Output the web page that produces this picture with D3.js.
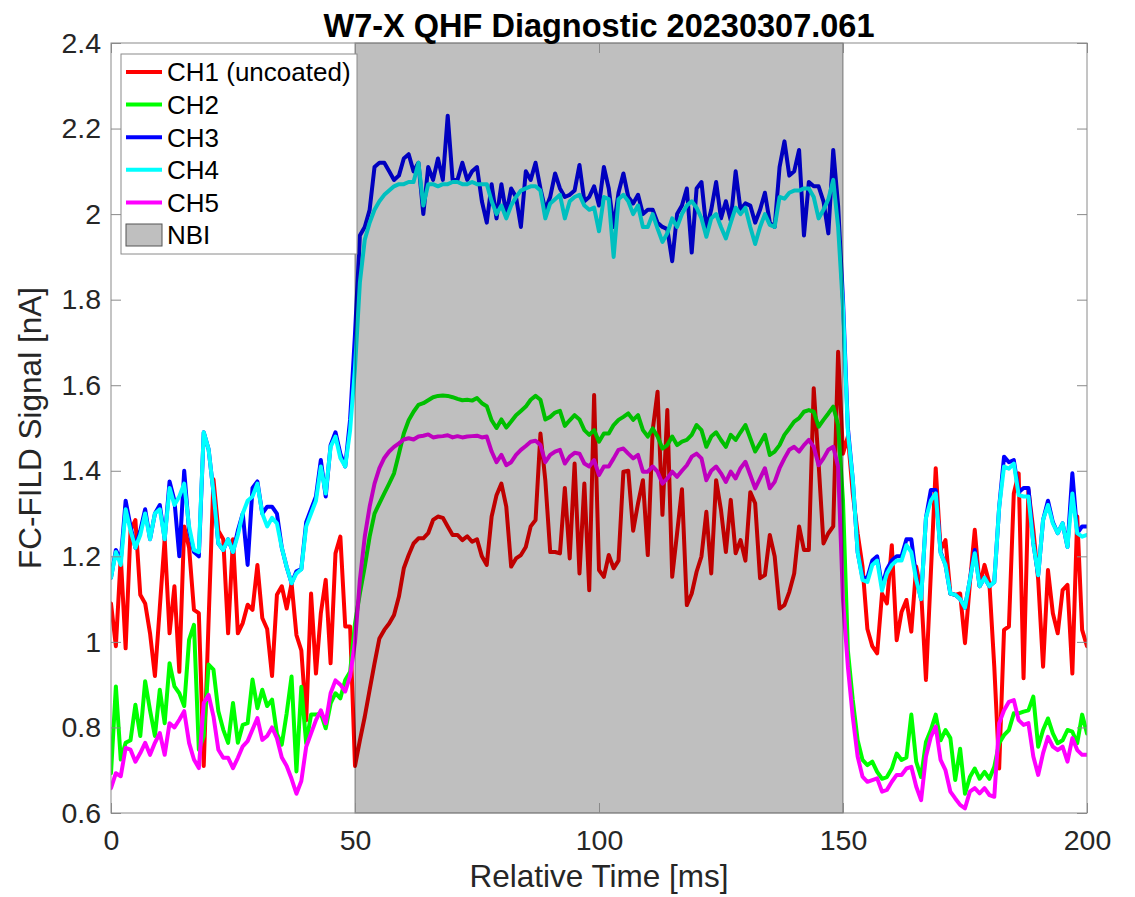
<!DOCTYPE html>
<html>
<head>
<meta charset="utf-8">
<script src="https://cdn.jsdelivr.net/npm/d3@7"></script>
<style>
  body { margin: 0; background: #fff; }
  svg { display: block; font-family: "Liberation Sans", Arial, Helvetica, sans-serif; }
</style>
</head>
<body>
<div id="chart"></div>
<script>
// sampling times (1 ms steps, 0..200 ms)
const timeMs = d3.range(0, 201);

// CH1 (uncoated)
const ch1 = [
  1.09, 0.99, 1.20, 0.985, 1.26, 1.285, 1.11, 1.09, 1.02, 0.92,
  1.08, 1.24, 1.02, 1.13, 0.93, 1.27, 1.22, 1.075, 1.067, 0.71,
  1.05, 1.38, 1.26, 1.24, 1.02, 1.24, 1.02, 1.044, 1.087, 1.075,
  1.18, 1.056, 1.03, 0.92, 1.11, 1.13, 1.078, 1.137, 1.016, 0.98,
  0.817, 1.113, 0.926, 1.067, 1.145, 0.95, 1.207, 1.246, 1.036, 1.036,
  0.71, 0.77, 0.825, 0.888, 0.95, 1.008, 1.028, 1.043, 1.063, 1.106,
  1.172, 1.203, 1.23, 1.242, 1.242, 1.254, 1.285, 1.293, 1.29, 1.27,
  1.25, 1.25, 1.238, 1.247, 1.234, 1.24, 1.20, 1.18, 1.293, 1.343,
  1.37, 1.316, 1.176, 1.195, 1.203, 1.222, 1.27, 1.285, 1.487, 1.378,
  1.21, 1.21, 1.207, 1.36, 1.195, 1.417, 1.16, 1.37, 1.121, 1.577,
  1.168, 1.152, 1.203, 1.172, 1.19, 1.398, 1.40, 1.26, 1.324, 1.378,
  1.203, 1.495, 1.585, 1.297, 1.542, 1.152, 1.254, 1.357, 1.086, 1.113,
  1.164, 1.20, 1.304, 1.16, 1.378, 1.308, 1.21, 1.332, 1.207, 1.238,
  1.19, 1.35, 1.324, 1.149, 1.156, 1.25, 1.20, 1.078, 1.086, 1.117,
  1.16, 1.27, 1.215, 1.215, 1.593, 1.417, 1.23, 1.254, 1.27, 1.678,
  1.44, 1.48, 1.347, 1.254, 1.176, 1.03, 0.99, 0.973, 1.113, 1.09,
  1.226, 1.004, 1.07, 1.098, 1.024, 1.176, 1.12, 0.911, 1.16, 1.406,
  1.215, 1.238, 1.113, 1.11, 1.113, 0.997, 1.137, 1.262, 1.13, 1.18,
  1.137, 0.942, 0.704, 1.028, 1.036, 1.347, 1.394, 0.915, 1.355, 1.262,
  1.145, 0.942, 1.168, 1.067, 1.02, 1.121, 1.133, 0.926, 1.293, 1.028, 0.99
];

// CH2
const ch2 = [
  0.693, 0.896, 0.725, 0.764, 0.77, 0.853, 0.78, 0.908, 0.84, 0.78,
  0.888, 0.81, 0.95, 0.896, 0.88, 0.85, 1.005, 1.04, 0.748, 0.78,
  0.947, 0.935, 0.838, 0.795, 0.764, 0.857, 0.764, 0.806, 0.81, 0.912,
  0.845, 0.888, 0.85, 0.865, 0.785, 0.76, 0.833, 0.919, 0.697, 0.895,
  0.763, 0.83, 0.83, 0.833, 0.798, 0.856, 0.88, 0.868, 0.911, 0.93,
  1.043, 1.113, 1.176, 1.246, 1.30, 1.324, 1.347, 1.37, 1.394, 1.44,
  1.487, 1.518, 1.538, 1.554, 1.558, 1.565, 1.572, 1.575, 1.576, 1.575,
  1.572, 1.568, 1.565, 1.566, 1.564, 1.57, 1.558, 1.551, 1.518, 1.50,
  1.52, 1.501, 1.515, 1.53, 1.54, 1.55, 1.566, 1.575, 1.566, 1.52,
  1.526, 1.536, 1.54, 1.505, 1.518, 1.53, 1.52, 1.495, 1.484, 1.495,
  1.468, 1.487, 1.487, 1.507, 1.519, 1.526, 1.534, 1.519, 1.53, 1.495,
  1.48, 1.499, 1.48, 1.452, 1.46, 1.48, 1.46, 1.468, 1.472, 1.484,
  1.507, 1.495, 1.456, 1.48, 1.49, 1.472, 1.456, 1.484, 1.472, 1.49,
  1.507, 1.476, 1.445, 1.464, 1.484, 1.437, 1.445, 1.46, 1.484, 1.499,
  1.515, 1.523, 1.538, 1.542, 1.538, 1.503, 1.519, 1.534, 1.55, 1.507,
  1.33, 0.98, 0.864, 0.77, 0.724, 0.712, 0.72, 0.696, 0.68, 0.684,
  0.704, 0.739, 0.724, 0.73, 0.83, 0.72, 0.684, 0.766, 0.794, 0.83,
  0.77, 0.794, 0.775, 0.677, 0.75, 0.645, 0.684, 0.704, 0.68, 0.696,
  0.68, 0.708, 0.763, 0.782, 0.794, 0.833, 0.833, 0.837, 0.84, 0.872,
  0.755, 0.794, 0.821, 0.786, 0.763, 0.77, 0.794, 0.79, 0.763, 0.83, 0.786
];

// CH3
const ch3 = [
  1.15, 1.215, 1.19, 1.33, 1.27, 1.22, 1.26, 1.31, 1.24, 1.30,
  1.32, 1.24, 1.375, 1.33, 1.20, 1.40, 1.26, 1.21, 1.20, 1.49,
  1.45, 1.35, 1.23, 1.215, 1.24, 1.21, 1.26, 1.30, 1.18, 1.36,
  1.375, 1.30, 1.316, 1.316, 1.30, 1.22, 1.175, 1.137, 1.165, 1.17,
  1.28, 1.31, 1.34, 1.425, 1.34, 1.46, 1.49, 1.44, 1.41, 1.52,
  1.72, 1.95, 1.97, 2.01, 2.11, 2.12, 2.12, 2.10, 2.08, 2.09,
  2.13, 2.14, 2.10, 2.12, 2.00, 2.11, 2.08, 2.13, 2.08, 2.23,
  2.08, 2.08, 2.12, 2.08, 2.10, 2.11, 2.03, 1.98, 2.07, 1.99,
  2.07, 2.00, 2.06, 2.04, 1.97, 2.10, 2.08, 2.12, 2.06, 2.01,
  2.04, 2.095, 2.06, 2.04, 2.045, 2.055, 2.115, 2.03, 2.04, 2.065,
  2.02, 2.11, 2.06, 1.97, 2.05, 2.095, 2.04, 2.025, 2.045, 2.00,
  2.01, 2.01, 1.98, 1.97, 1.965, 1.89, 2.00, 2.02, 2.06, 1.91,
  2.06, 2.075, 1.966, 2.01, 2.075, 1.99, 2.03, 1.985, 2.10, 2.01,
  2.025, 2.02, 1.98, 2.01, 2.05, 1.98, 1.97, 2.11, 2.17, 2.09,
  2.10, 2.15, 1.95, 2.075, 2.065, 2.065, 2.03, 1.955, 2.15, 2.02,
  1.80, 1.50, 1.38, 1.21, 1.15, 1.15, 1.19, 1.20, 1.13, 1.17,
  1.19, 1.20, 1.20, 1.24, 1.24, 1.15, 1.10, 1.29, 1.355, 1.355,
  1.21, 1.18, 1.113, 1.11, 1.10, 1.08, 1.145, 1.215, 1.13, 1.15,
  1.13, 1.14, 1.315, 1.433, 1.42, 1.425, 1.35, 1.36, 1.36, 1.23,
  1.156, 1.285, 1.33, 1.28, 1.254, 1.277, 1.222, 1.394, 1.254, 1.27, 1.27
];

// CH4
const ch4 = [
  1.15, 1.21, 1.18, 1.31, 1.26, 1.22, 1.25, 1.30, 1.24, 1.30,
  1.31, 1.24, 1.36, 1.32, 1.34, 1.37, 1.27, 1.215, 1.21, 1.49,
  1.45, 1.35, 1.23, 1.215, 1.24, 1.21, 1.25, 1.30, 1.33, 1.34,
  1.37, 1.30, 1.27, 1.29, 1.277, 1.22, 1.175, 1.137, 1.16, 1.17,
  1.27, 1.30, 1.33, 1.41, 1.347, 1.456, 1.48, 1.43, 1.41, 1.495,
  1.64, 1.84, 1.94, 1.98, 2.01, 2.03, 2.045, 2.055, 2.065, 2.07,
  2.07, 2.075, 2.075, 2.12, 2.02, 2.07, 2.07, 2.065, 2.07, 2.07,
  2.075, 2.075, 2.07, 2.07, 2.075, 2.07, 2.07, 2.07, 2.03, 2.00,
  2.02, 1.99, 2.02, 2.04, 2.055, 2.06, 2.065, 2.065, 2.055, 1.99,
  2.025, 2.035, 2.045, 1.99, 2.03, 2.04, 2.045, 2.02, 2.01, 2.015,
  1.96, 2.04, 2.035, 1.90, 2.035, 2.045, 2.03, 2.00, 2.02, 1.97,
  1.97, 2.00, 1.966, 1.935, 1.955, 1.99, 1.97, 2.00, 2.02, 2.03,
  2.015, 1.99, 1.947, 1.99, 2.00, 1.97, 1.943, 1.98, 2.015, 2.00,
  2.015, 1.97, 1.93, 1.97, 2.00, 1.975, 1.97, 2.04, 2.036, 2.05,
  2.055, 2.055, 2.06, 2.06, 2.04, 1.99, 2.01, 2.035, 2.08, 1.97,
  1.78, 1.49, 1.38, 1.21, 1.145, 1.14, 1.18, 1.19, 1.12, 1.16,
  1.18, 1.19, 1.19, 1.226, 1.21, 1.145, 1.10, 1.29, 1.33, 1.347,
  1.207, 1.18, 1.113, 1.11, 1.10, 1.08, 1.145, 1.207, 1.13, 1.15,
  1.13, 1.14, 1.315, 1.41, 1.405, 1.417, 1.343, 1.34, 1.34, 1.23,
  1.156, 1.285, 1.32, 1.277, 1.254, 1.277, 1.222, 1.347, 1.254, 1.246, 1.25
];

// CH5
const ch5 = [
  0.658, 0.693, 0.686, 0.752, 0.748, 0.72, 0.74, 0.764, 0.736, 0.764,
  0.787, 0.736, 0.81, 0.80, 0.818, 0.838, 0.764, 0.725, 0.705, 0.857,
  0.876, 0.826, 0.748, 0.729, 0.729, 0.705, 0.729, 0.756, 0.768, 0.795,
  0.822, 0.771, 0.78, 0.80, 0.775, 0.73, 0.71, 0.68, 0.645, 0.675,
  0.755, 0.786, 0.817, 0.84, 0.81, 0.88, 0.91, 0.90, 0.884, 0.92,
  1.00, 1.145, 1.246, 1.316, 1.37, 1.406, 1.43, 1.445, 1.456, 1.464,
  1.473, 1.476, 1.473, 1.48, 1.482, 1.485, 1.478, 1.48, 1.481, 1.483,
  1.478, 1.481, 1.478, 1.48, 1.481, 1.482, 1.478, 1.48, 1.445, 1.42,
  1.437, 1.413, 1.42, 1.437, 1.449, 1.458, 1.468, 1.47, 1.46, 1.42,
  1.437, 1.445, 1.449, 1.417, 1.433, 1.442, 1.44, 1.417, 1.41, 1.425,
  1.39, 1.41, 1.41, 1.429, 1.449, 1.452, 1.44, 1.429, 1.437, 1.398,
  1.398, 1.41, 1.398, 1.37, 1.382, 1.398, 1.386, 1.40, 1.413, 1.433,
  1.44, 1.429, 1.378, 1.40, 1.41, 1.394, 1.374, 1.398, 1.382, 1.406,
  1.421, 1.39, 1.359, 1.382, 1.406, 1.359, 1.374, 1.406, 1.429, 1.449,
  1.456, 1.445, 1.46, 1.472, 1.456, 1.413, 1.429, 1.449, 1.456, 1.41,
  1.098, 0.942, 0.825, 0.732, 0.685, 0.673, 0.677, 0.681, 0.65, 0.654,
  0.673, 0.689, 0.689, 0.704, 0.708, 0.662, 0.63, 0.732, 0.778, 0.802,
  0.724, 0.70, 0.65, 0.634, 0.619, 0.611, 0.65, 0.658, 0.646, 0.658,
  0.642, 0.638, 0.81, 0.84, 0.86, 0.864, 0.817, 0.806, 0.81, 0.732,
  0.689, 0.74, 0.778, 0.755, 0.747, 0.755, 0.72, 0.775, 0.747, 0.736, 0.736
];

const seriesNames = ["CH1 (uncoated)", "CH2", "CH3", "CH4", "CH5"];
const seriesColors = ["#ff0000", "#00ff00", "#0000ff", "#00ffff", "#ff00ff"];
const nbiWindow = [50, 150];
const nbiLabel = "NBI";

const xTicks = [0, 50, 100, 150, 200];
const xTickLabels = ["0", "50", "100", "150", "200"];
const yTicks = [0.6, 0.8, 1, 1.2, 1.4, 1.6, 1.8, 2, 2.2, 2.4];
const yTickLabels = ["0.6", "0.8", "1", "1.2", "1.4", "1.6", "1.8", "2", "2.2", "2.4"];

const titleText = "W7-X QHF Diagnostic 20230307.061";
const xLabel = "Relative Time [ms]";
const yLabel = "FC-FILD Signal [nA]";

// layout
const width = 1135;
const height = 897;
const plot = {left: 111, right: 1087, top: 43, bottom: 813};
const axisColor = "#8a8a8a";
const textColor = "#262626";

const svg = d3.select("#chart")
  .append("svg")
  .attr("width", width)
  .attr("height", height);

const x = d3.scaleLinear().domain([0, 200]).range([plot.left, plot.right]);
const y = d3.scaleLinear().domain([0.6, 2.4]).range([plot.bottom, plot.top]);

svg.append("clipPath").attr("id", "plotclip")
  .append("rect")
  .attr("x", plot.left).attr("y", plot.top)
  .attr("width", plot.right - plot.left)
  .attr("height", plot.bottom - plot.top);

const series = [ch1, ch2, ch3, ch4, ch5].map((values, i) => ({
  name: seriesNames[i], color: seriesColors[i], values: values
}));

const line = d3.line()
  .x((d, i) => x(timeMs[i]))
  .y(d => y(d));

const lines = svg.append("g").attr("clip-path", "url(#plotclip)");
lines.selectAll("path")
  .data(series)
  .join("path")
  .attr("d", d => line(d.values))
  .attr("fill", "none")
  .attr("stroke", d => d.color)
  .attr("stroke-width", 4)
  .attr("stroke-linejoin", "round")
  .attr("stroke-linecap", "round");

// NBI shading, drawn over the traces (darkens them)
svg.append("rect")
  .attr("x", x(nbiWindow[0]))
  .attr("y", y(2.4))
  .attr("width", x(nbiWindow[1]) - x(nbiWindow[0]))
  .attr("height", y(0.6) - y(2.4))
  .attr("fill", "#000")
  .attr("fill-opacity", 0.25)
  .attr("stroke", "#000")
  .attr("stroke-opacity", 0.45)
  .attr("stroke-width", 1);

// axes (ticks point inward, box on)
function styleAxis(g, fontSize) {
  g.select(".domain").remove();
  g.attr("font-family", null).attr("font-size", null);
  g.selectAll(".tick line").attr("stroke", axisColor).attr("stroke-width", 1);
  g.selectAll(".tick text").attr("fill", textColor).style("font-size", fontSize + "px");
}

svg.append("g")
  .attr("transform", `translate(0, ${plot.bottom})`)
  .call(d3.axisBottom(x).tickValues(xTicks).tickFormat((d, i) => xTickLabels[i])
    .tickSizeInner(-10).tickSizeOuter(0).tickPadding(17))
  .call(g => styleAxis(g, 28.5));

svg.append("g")
  .attr("transform", `translate(${plot.left}, 0)`)
  .call(d3.axisLeft(y).tickValues(yTicks).tickFormat((d, i) => yTickLabels[i])
    .tickSizeInner(-10).tickSizeOuter(0).tickPadding(10))
  .call(g => styleAxis(g, 28.5));

svg.append("g")
  .attr("transform", `translate(0, ${plot.top})`)
  .call(d3.axisTop(x).tickValues(xTicks).tickFormat(() => "")
    .tickSizeInner(-10).tickSizeOuter(0))
  .call(g => styleAxis(g, 0));

svg.append("g")
  .attr("transform", `translate(${plot.right}, 0)`)
  .call(d3.axisRight(y).tickValues(yTicks).tickFormat(() => "")
    .tickSizeInner(-10).tickSizeOuter(0))
  .call(g => styleAxis(g, 0));

svg.append("rect")
  .attr("x", plot.left).attr("y", plot.top)
  .attr("width", plot.right - plot.left)
  .attr("height", plot.bottom - plot.top)
  .attr("fill", "none")
  .attr("stroke", axisColor)
  .attr("stroke-width", 1);

// labels
svg.append("text")
  .attr("x", (plot.left + plot.right) / 2)
  .attr("y", 37)
  .attr("text-anchor", "middle")
  .style("font-size", "32.5px")
  .style("font-weight", "bold")
  .attr("fill", "#000")
  .text(titleText);

svg.append("text")
  .attr("x", (plot.left + plot.right) / 2)
  .attr("y", 887)
  .attr("text-anchor", "middle")
  .style("font-size", "31.5px")
  .attr("fill", textColor)
  .text(xLabel);

svg.append("text")
  .attr("transform", `translate(41, ${(plot.top + plot.bottom) / 2}) rotate(-90)`)
  .attr("text-anchor", "middle")
  .style("font-size", "31.5px")
  .attr("fill", textColor)
  .text(yLabel);

// legend
const legend = svg.append("g").attr("transform", "translate(121, 54)");
legend.append("rect")
  .attr("width", 236).attr("height", 200)
  .attr("fill", "#fff")
  .attr("stroke", axisColor)
  .attr("stroke-width", 1);

const rowY = i => 18 + i * 32.6;

legend.selectAll("line.key")
  .data(series)
  .join("line")
  .attr("class", "key")
  .attr("x1", 5).attr("x2", 41)
  .attr("y1", (d, i) => rowY(i)).attr("y2", (d, i) => rowY(i))
  .attr("stroke", d => d.color)
  .attr("stroke-width", 4);

legend.append("rect")
  .attr("x", 5).attr("y", rowY(5) - 11)
  .attr("width", 36).attr("height", 22)
  .attr("fill", "#bfbfbf")
  .attr("stroke", "#555")
  .attr("stroke-width", 1);

legend.selectAll("text")
  .data(seriesNames.concat([nbiLabel]))
  .join("text")
  .attr("x", 46)
  .attr("y", (d, i) => rowY(i))
  .attr("dy", "0.36em")
  .style("font-size", "26px")
  .attr("fill", "#000")
  .text(d => d);
</script>
</body>
</html>
